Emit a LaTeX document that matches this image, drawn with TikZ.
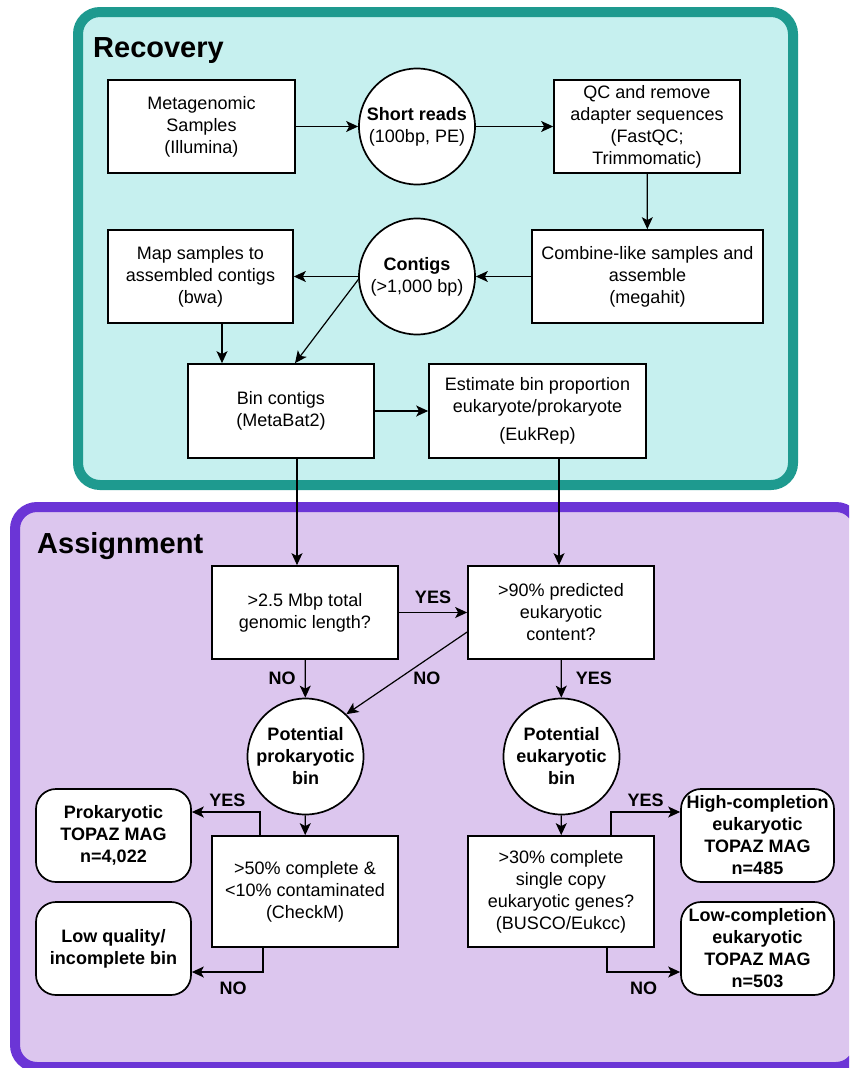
\documentclass[tikz,border=0pt]{standalone}
\usepackage{fontspec}
\setmainfont{Liberation Sans}
\usetikzlibrary{arrows.meta,positioning}
\definecolor{recline}{HTML}{1E9A8F}
\definecolor{recfill}{HTML}{C6F0EF}
\definecolor{asgline}{HTML}{6B35D6}
\definecolor{asgfill}{HTML}{DCC6EE}
\tikzset{
  bodyfont/.style={font=\fontsize{18}{22}\selectfont},
  boldfont/.style={font=\fontsize{18}{22}\selectfont\bfseries},
  stepbox/.style={draw, line width=1.7pt, fill=white, align=center, inner sep=1pt,
    minimum width=186pt, minimum height=93pt},
  datanode/.style={draw, circle, line width=1.7pt, fill=white, align=center,
    inner sep=0pt, minimum size=116pt},
  magbox/.style={draw, line width=1.7pt, fill=white, align=center, inner sep=1pt,
    rounded corners=20pt, minimum width=155pt, minimum height=93pt, boldfont},
  arr/.style={line width=1.2pt, -{Stealth[length=12pt,width=11pt,inset=3pt]}},
  lbl/.style={boldfont, inner sep=2pt},
  frame/.style={line width=10pt, rounded corners=22pt}
}
\begin{document}
\begin{tikzpicture}[x=1pt, y=-1pt, bodyfont]
\useasboundingbox (0,0) rectangle (849,1068);
\clip (0,0) rectangle (849,1068);
\draw[frame, draw=recline, fill=recfill] (78,12) rectangle (793,485);
\draw[frame, draw=asgline, fill=asgfill] (15,507) rectangle (858,1067);
\node[anchor=base west, inner sep=0pt, font=\fontsize{29}{34}\selectfont\bfseries] (rec) at (93,57) {Recovery};
\node[anchor=base west, inner sep=0pt, font=\fontsize{29}{34}\selectfont\bfseries] (asg) at (37,553) {Assignment};

\node[stepbox, minimum width=187pt] (ms) at (201.5,126.5) {Metagenomic\\Samples\\(Illumina)};
\node[datanode] (sr) at (417,126.5) {\textbf{Short reads}\\(100bp, PE)};
\node[stepbox] (qc) at (647,126.5) {QC and remove\\adapter sequences\\(FastQC;\\Trimmomatic)};
\node[stepbox, minimum width=231pt] (cb) at (647.5,276.5) {Combine-like samples and\\assemble\\(megahit)};
\node[datanode] (ct) at (417,276.5) {\textbf{Contigs}\\(>1,000 bp)};
\node[stepbox, minimum width=185pt] (mp) at (200.5,276.5) {Map samples to\\assembled contigs\\(bwa)};
\node[stepbox, minimum height=94pt] (bc) at (281,411) {Bin contigs\\(MetaBat2)};
\node[stepbox, minimum width=217pt, minimum height=94pt] (eb) at (537.5,411) {Estimate bin proportion\\eukaryote/prokaryote\\[6pt](EukRep)};

\node[stepbox] (q1) at (305,612.5) {>2.5 Mbp total\\genomic length?};
\node[stepbox] (q2) at (561,612.5) {>90\% predicted\\eukaryotic\\content?};
\node[datanode, boldfont] (pp) at (305.5,756.5) {Potential\\prokaryotic\\bin};
\node[datanode, boldfont] (pe) at (561.5,756.5) {Potential\\eukaryotic\\bin};
\node[stepbox, minimum height=111pt] (c50) at (305,891.5) {>50\% complete \&\\<10\% contaminated\\(CheckM)};
\node[stepbox, minimum height=111pt] (c30) at (561,891.5) {>30\% complete\\single copy\\eukaryotic genes?\\(BUSCO/Eukcc)};
\node[magbox] (pt) at (113.5,835.5) {Prokaryotic\\TOPAZ MAG\\n=4,022};
\node[magbox] (lq) at (113.5,948.5) {Low quality/\\incomplete bin};
\node[magbox, minimum width=153pt] (hc) at (757.5,835.5) {High-completion\\eukaryotic\\TOPAZ MAG\\n=485};
\node[magbox, minimum width=153pt] (lc) at (757.5,948.5) {Low-completion\\eukaryotic\\TOPAZ MAG\\n=503};

\path[arr]
  (ms) edge (sr)
  (sr) edge (qc)
  (qc) edge (cb)
  (cb) edge (ct)
  (ct) edge (mp)
  ([xshift=21.5pt]mp.south) edge ([xshift=21.5pt]mp.south |- bc.north)
  (ct.183) edge ([xshift=14pt]bc.north)
  (bc) edge (eb)
  ([xshift=16pt]bc.south) edge ([xshift=16pt]bc.south |- q1.north)
  ([xshift=21.5pt]eb.south) edge ([xshift=21.5pt]eb.south |- q2.north)
  (q1) edge node[lbl, above=6pt] {YES} (q2)
  (q1) edge node[lbl, left=7pt] {NO} (pp)
  ([yshift=-19.5pt]q2.west) edge node[lbl, xshift=20pt, yshift=-5pt] {NO} (pp.46)
  (q2) edge node[lbl, right=12pt] {YES} (pe)
  (pp) edge (c50)
  (pe) edge (c30);
\draw[arr] ([xshift=-45pt]c50.north) |- ([yshift=23.5pt]pt.east) node[lbl, pos=0.74, above=3pt] {YES};
\draw[arr] ([xshift=-42pt]c50.south) |- ([yshift=-23.5pt]lq.east) node[lbl, pos=0.71, below=7pt] {NO};
\draw[arr] ([xshift=50pt]c30.north) |- ([yshift=23.5pt]hc.west) node[lbl, pos=0.75, above=3pt] {YES};
\draw[arr] ([xshift=46pt]c30.south) |- ([yshift=-23.5pt]lc.west) node[lbl, pos=0.75, below=7pt] {NO};
\end{tikzpicture}
\end{document}
